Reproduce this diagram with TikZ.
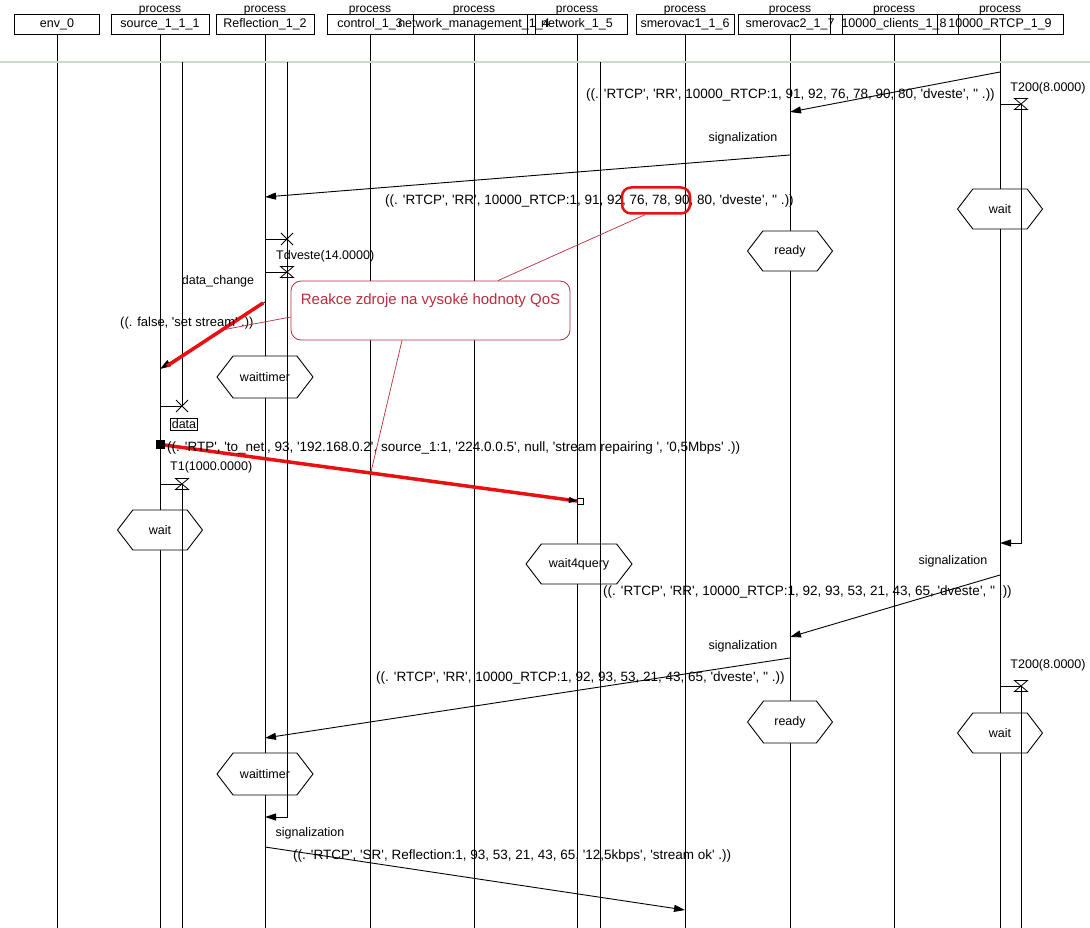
\documentclass[tikz,border=0pt]{standalone}
\usepackage{fontspec}
\newfontfamily\sdlfont{Liberation Sans}
\usetikzlibrary{arrows.meta,shapes.symbols}
\definecolor{sepgreen}{RGB}{200,220,200}
\definecolor{notered}{RGB}{185,45,60}
\definecolor{hotred}{RGB}{232,16,16}
\newcommand{\ovl}[1]{\makebox[0pt]{#1}}
\tikzset{
    timerset/.pic={\draw[line width=0.8pt] (-6.5,-5.5) -- (6.5,-5.5) -- (-6.5,5.5) -- (6.5,5.5) -- cycle;},
    timerstop/.pic={\draw[line width=0.8pt] (-6,-6) -- (6,6) (-6,6) -- (6,-6);}
}

\begin{document}
\begin{tikzpicture}[x=1pt, y=-1pt,
    hdr/.style={draw, line width=0.8pt, minimum height=20pt, inner sep=0pt, font=\sdlfont\fontsize{12.5}{14}\selectfont},
    proc/.style={anchor=base, inner sep=0pt, font=\sdlfont\fontsize{12}{14}\selectfont},
    life/.style={line width=0.9pt},
    msg/.style={line width=0.9pt, -{Triangle[length=11pt,width=7pt]}},
    lbl/.style={inner sep=0pt, font=\sdlfont\fontsize{12.5}{14}\selectfont},
    params/.style={inner sep=0pt, anchor=west, font=\sdlfont\fontsize{13.5}{15}\selectfont},
    sdlstate/.style={draw, fill=white, line width=0.9pt, signal, signal to=east and west, signal pointer angle=105, minimum height=40pt, inner sep=0pt, font=\sdlfont\fontsize{12.5}{14}\selectfont},
    hot/.style={hotred, line width=3.5pt},
    noteline/.style={notered, line width=0.7pt}]
    \useasboundingbox (0,0) rectangle (1090,928);

    \node[hdr, minimum width=85pt] (env) at (57,24.5) {\ovl{env\_0}};
    \node[hdr, minimum width=98pt] (src) at (160,24.5) {\ovl{source\_1\_1\_1}};
    \node[hdr, minimum width=98pt] (refl) at (265,24.5) {\ovl{Reflection\_1\_2}};
    \node[hdr, minimum width=86pt] (ctrl) at (370,24.5) {\ovl{control\_1\_3}};
    \node[hdr, minimum width=122pt] (nmgmt) at (474,24.5) {\ovl{network\_management\_1\_4}};
    \node[hdr, minimum width=100pt] (net) at (577,24.5) {\ovl{network\_1\_5}};
    \node[hdr, minimum width=98pt] (smerA) at (685,24.5) {\ovl{smerovac1\_1\_6}};
    \node[hdr, minimum width=104pt] (smerB) at (790,24.5) {\ovl{smerovac2\_1\_7}};
    \node[hdr, minimum width=128pt] (cli) at (894,24.5) {\ovl{10000\_clients\_1\_8}};
    \node[hdr, minimum width=126pt] (rtcp) at (1000,24.5) {\ovl{10000\_RTCP\_1\_9}};
    \foreach \p in {src,refl,ctrl,nmgmt,net,smerA,smerB,cli,rtcp}
        \node[proc] at (\p |- 0,13) {process};

    \foreach \p in {env,src,refl,ctrl,nmgmt,net,smerA,smerB,cli,rtcp}
        \draw[life] (\p.south) -- (\p.south |- 0,928);
    \draw[sepgreen, line width=2pt] (0,62) -- (1090,62);

    \node[sdlstate, minimum width=85pt] (waitR1) at (rtcp |- 0,209) {wait};
    \node[sdlstate, minimum width=85pt] (readyB1) at (smerB |- 0,251) {ready};
    \node[sdlstate, minimum width=96pt, minimum height=42pt] (wtimer1) at (refl |- 0,377) {waittimer};
    \node[sdlstate, minimum width=85pt] (waitS) at (src |- 0,530) {wait};
    \node[sdlstate, minimum width=106pt] (w4q) at (579,564) {wait4query};
    \node[sdlstate, minimum width=85pt, minimum height=42pt] (readyB2) at (smerB |- 0,722) {ready};
    \node[sdlstate, minimum width=85pt] (waitR2) at (rtcp |- 0,733) {wait};
    \node[sdlstate, minimum width=96pt, minimum height=42pt] (wtimer2) at (refl |- 0,774) {waittimer};

    \coordinate (srcT) at (182,62);
    \coordinate (reflT) at (287,62);
    \coordinate (netT) at (600,62);
    \coordinate (rtcpT) at (1021,62);
    \draw[life] (srcT) -- (srcT |- 0,406);
    \draw[life] (srcT |- 0,484) -- (srcT |- 0,928);
    \draw[msg] (reflT) -- (reflT |- 0,817) -- (refl |- 0,817);
    \draw[life] (netT) -- (netT |- 0,928);
    \draw[msg] (rtcpT |- 0,104) -- (rtcpT |- 0,543) -- (rtcp |- 0,543);
    \draw[life] (rtcpT |- 0,686) -- (rtcpT |- 0,928);

    \draw[life] (rtcp |- 0,104) -- (rtcpT |- 0,104);
    \pic at (rtcpT |- 0,104) {timerset};
    \draw[life] (refl |- 0,239) -- (reflT |- 0,239);
    \pic at (reflT |- 0,239) {timerstop};
    \draw[life] (refl |- 0,272) -- (reflT |- 0,272);
    \pic at (reflT |- 0,272) {timerset};
    \draw[life] (src |- 0,406) -- (srcT |- 0,406);
    \pic at (srcT |- 0,406) {timerstop};
    \draw[life] (src |- 0,484) -- (srcT |- 0,484);
    \pic at (srcT |- 0,484) {timerset};
    \draw[life] (rtcp |- 0,686) -- (rtcpT |- 0,686);
    \pic at (rtcpT |- 0,686) {timerset};

    \draw[msg] (rtcp |- 0,72) -- (smerB |- 0,112);
    \draw[msg] (smerB |- 0,155) -- (refl |- 0,197);
    \draw[msg] (refl |- 0,302) -- (src |- 0,369);
    \draw[hot] (263,303) -- (167,366);
    \draw[msg] (rtcp |- 0,575) -- (smerB |- 0,637);
    \draw[msg] (smerB |- 0,658) -- (refl |- 0,738);
    \draw[msg] (refl |- 0,847) -- (smerA |- 0,910);

    \coordinate (rtpA) at (160.5,444.5);
    \coordinate (rtpB) at (577,501);
    \draw[hot] (rtpA) -- (rtpB);
    \draw[line width=0.9pt, -{Triangle[length=8pt,width=6pt]}] (566,499.5) -- (rtpB);
    \node[fill, minimum size=9pt, inner sep=0pt] (rtpsend) at (rtpA) {};
    \node[draw, fill=white, line width=0.9pt, minimum size=6pt, inner sep=0pt] (rtprecv) at (580,501) {};

    \node[lbl] at (1048,88) {T200(8.0000)};
    \node[params] at (586,95) {((. 'RTCP', 'RR', 10000\_RTCP:1, 91, 92, 76, 78, 90, 80, 'dveste', '' .))};
    \node[lbl] at (743,138) {signalization};
    \node[params] at (385,201) {((. 'RTCP', 'RR', 10000\_RTCP:1, 91, 92, 76, 78, 90, 80, 'dveste', '' .))};
    \node[lbl, anchor=west] at (276,256) {Tdveste(14.0000)};
    \node[lbl] at (218,281) {data\_change};
    \node[params, font=\sdlfont\fontsize{13}{15}\selectfont] at (120,323) {((. false, 'set stream' .))};
    \node[draw, line width=0.8pt, inner sep=1.5pt, font=\sdlfont\fontsize{12.5}{14}\selectfont] (databox) at (184,424) {data};
    \node[params] at (167,448) {((. 'RTP', 'to\_net', 93, '192.168.0.2', source\_1:1, '224.0.0.5', null, 'stream repairing ', '0,5Mbps' .))};
    \node[lbl, anchor=west] at (170,467) {T1(1000.0000)};
    \node[lbl] at (953,561) {signalization};
    \node[params] at (603,592) {((. 'RTCP', 'RR', 10000\_RTCP:1, 92, 93, 53, 21, 43, 65, 'dveste', '' .))};
    \node[lbl] at (743,646) {signalization};
    \node[lbl] at (1048,665) {T200(8.0000)};
    \node[params] at (376,678) {((. 'RTCP', 'RR', 10000\_RTCP:1, 92, 93, 53, 21, 43, 65, 'dveste', '' .))};
    \node[lbl] at (310,833) {signalization};
    \node[params] at (293,856) {((. 'RTCP', 'SR', Reflection:1, 93, 53, 21, 43, 65, '12,5kbps', 'stream ok' .))};

    \node[draw=hotred, line width=2.5pt, rounded corners=9pt, minimum width=68pt, minimum height=26pt, inner sep=0pt] (hilite) at (656,200.5) {};
    \node[draw=notered, fill=white, line width=0.8pt, rounded corners=10pt, minimum width=279pt, minimum height=59pt, text=notered, font=\sdlfont\fontsize{15}{17}\selectfont, text height=15pt, text depth=28pt, inner ysep=8pt, inner xsep=4pt] (note) at (430.5,310.5) {Reakce zdroje na vysoké hodnoty QoS};
    \coordinate (setend) at (222,330);
    \coordinate (rtpmid) at (371,472);
    \draw[noteline] (note.north -| 498,0) -- (hilite.south -| 645,0);
    \draw[noteline] (note.west |- 0,317) -- (setend);
    \draw[noteline] (note.south -| 402,0) -- (rtpmid);
\end{tikzpicture}
\end{document}
